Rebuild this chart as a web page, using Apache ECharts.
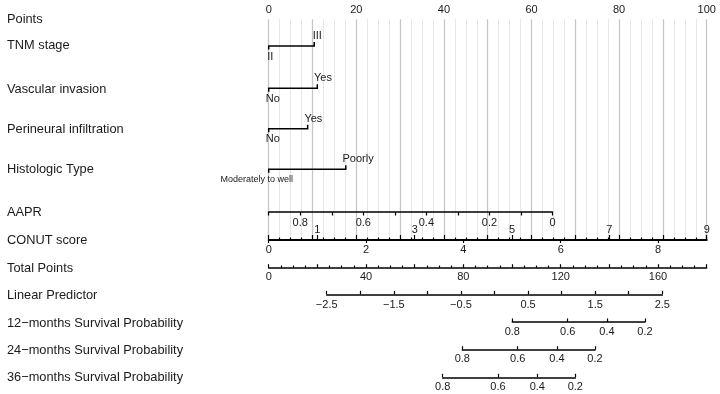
<!DOCTYPE html>
<html><head><meta charset="utf-8">
<script src="https://cdn.jsdelivr.net/npm/echarts@6/dist/echarts.min.js"></script>
<style>html,body{margin:0;padding:0;background:#fff}#c{width:720px;height:394px}</style>
</head><body><div id="c"></div>
<script>
// ---------------- data ----------------
const rowTitles = ['Points','TNM stage','Vascular invasion','Perineural infiltration','Histologic Type','AAPR','CONUT score','Total Points','Linear Predictor','12\u2212months Survival Probability','24\u2212months Survival Probability','36\u2212months Survival Probability'];
const pointsRange = [0, 100];
const pointsLabels = [0, 20, 40, 60, 80, 100];
const catLevels = [['II','III'],['No','Yes'],['No','Yes'],['Moderately to well','Poorly']];
const catPoints = [[0, 10.4],[0, 11.1],[0, 8.9],[0, 17.6]];
const aaprRange = [0, 0.9];
const aaprPointsAt = [64.8, 0];          // points at AAPR = 0 and AAPR = 0.9
const aaprTicks = [0, 0.1, 0.2, 0.3, 0.4, 0.5, 0.6, 0.7, 0.8, 0.9];
const aaprLabels = [0, 0.2, 0.4, 0.6, 0.8];
const conutRange = [0, 9];
const conutEven = [0, 2, 4, 6, 8];
const conutOdd = [1, 3, 5, 7, 9];
const totalRange = [0, 180];
const totalLabels = [0, 40, 80, 120, 160];
const lpRange = [-2.5, 2.5];
const lpTotalPoints = [23.84, 161.75];  // total points at LP = -2.5 and 2.5
const lpLabels = [-2.5, -1.5, -0.5, 0.5, 1.5, 2.5];
const survProbs = [0.8, 0.6, 0.4, 0.2];
const surv12LP = [0.265, 1.091, 1.676, 2.242];
const surv24LP = [-0.480, 0.346, 0.931, 1.497];
const surv36LP = [-0.772, 0.052, 0.638, 1.204];

// ---------------- layout ----------------
const W = 720, PX0 = 268.7, PX1 = 706.7;
const FONT = '"Liberation Sans", Arial, Helvetica, sans-serif';
const TXT = '#1a1a1a';
const titleY = [19.3, 45, 89, 129, 169, 212, 240, 268, 295, 323, 350, 377.7];
const Y = {points: 19.3, aapr: 212, conut: 239.5, total: 267.7, lp: 294.3, s12: 322, s24: 349.7, s36: 377.3};
const catRowY = [46, 88.3, 128.7, 169.3];
const lowStyle = [{align:'left', dx:-1.5, fs:11},{align:'left', dx:-3, fs:11},{align:'left', dx:-3, fs:11},{align:'center', dx:-12, fs:9}];
const highDx = [-1.5, -3.3, -3.3, -3.3];

const ptsPx = p => PX0 + (p - pointsRange[0]) / (pointsRange[1] - pointsRange[0]) * (PX1 - PX0);
const totPx = t => PX0 + (t - totalRange[0]) / (totalRange[1] - totalRange[0]) * (PX1 - PX0);
const lpPx = v => totPx(lpTotalPoints[0] + (v - lpRange[0]) / (lpRange[1] - lpRange[0]) * (lpTotalPoints[1] - lpTotalPoints[0]));

const lineStyle = {color: '#000', width: 1.5};
const tickStyle = {color: '#000', width: 1.2};
const lbl = (extra) => Object.assign({color: TXT, fontSize: 11, fontFamily: FONT, margin: 4}, extra);

const grids = [], xAxes = [], yAxes = [];
function addGrid(left, right, top, height) {
  grids.push({left: left, width: right - left, top: top, height: height, containLabel: false});
  yAxes.push({gridIndex: grids.length - 1, type: 'value', min: 0, max: 1, show: false});
  return grids.length - 1;
}

// Points axis + vertical guide lines
const g0 = addGrid(ptsPx(0), ptsPx(100), Y.points, Y.conut - Y.points);
xAxes.push({gridIndex: g0, type: 'value', position: 'top', min: pointsRange[0], max: pointsRange[1], interval: 10,
  axisLine: {lineStyle: lineStyle}, axisTick: {length: 4.5, lineStyle: tickStyle},
  minorTick: {show: true, splitNumber: 4, length: 2, lineStyle: tickStyle},
  axisLabel: lbl({customValues: pointsLabels, margin: 4}),
  splitLine: {show: true, lineStyle: {color: '#c6c6c6', width: 1.3}},
  minorSplitLine: {show: true, lineStyle: {color: '#e6e6e6', width: 1}}});

// AAPR
const gA = addGrid(ptsPx(Math.min(...aaprPointsAt)), ptsPx(Math.max(...aaprPointsAt)), Y.aapr, 0);
xAxes.push({gridIndex: gA, type: 'value', position: 'bottom', inverse: true, min: aaprRange[0], max: aaprRange[1],
  axisLine: {lineStyle: lineStyle}, axisTick: {customValues: aaprTicks, length: 3.5, lineStyle: tickStyle},
  axisLabel: lbl({customValues: aaprLabels, margin: 5, formatter: v => String(+v.toFixed(1))}), splitLine: {show: false}});

// CONUT
const gC = addGrid(ptsPx(0), ptsPx(100), Y.conut, 0);
xAxes.push({gridIndex: gC, type: 'value', position: 'bottom', min: conutRange[0], max: conutRange[1],
  axisLine: {lineStyle: lineStyle}, axisTick: {customValues: conutEven, length: 3.5, lineStyle: tickStyle},
  axisLabel: lbl({customValues: conutEven, margin: 5}), splitLine: {show: false}});
xAxes.push({gridIndex: gC, type: 'value', position: 'top', min: conutRange[0], max: conutRange[1],
  axisLine: {lineStyle: lineStyle}, axisTick: {customValues: conutOdd, length: 4.5, lineStyle: tickStyle},
  axisLabel: lbl({customValues: conutOdd, margin: 4}), splitLine: {show: false}});

// Total points
const gT = addGrid(totPx(totalRange[0]), totPx(totalRange[1]), Y.total, 0);
xAxes.push({gridIndex: gT, type: 'value', position: 'bottom', min: totalRange[0], max: totalRange[1], interval: 20,
  axisLine: {lineStyle: lineStyle}, axisTick: {inside: true, length: 3.5, lineStyle: tickStyle},
  minorTick: {show: true, splitNumber: 4, length: 2.2, lineStyle: tickStyle},
  axisLabel: lbl({customValues: totalLabels, margin: 4}), splitLine: {show: false}});

// Linear predictor
const fmtNum = v => (v < 0 ? '\u2212' : '') + String(+Math.abs(v).toFixed(1));
const gL = addGrid(lpPx(lpRange[0]), lpPx(lpRange[1]), Y.lp, 0);
xAxes.push({gridIndex: gL, type: 'value', position: 'bottom', min: lpRange[0], max: lpRange[1], interval: 0.5,
  axisLine: {lineStyle: lineStyle}, axisTick: {inside: true, length: 3.5, lineStyle: tickStyle},
  axisLabel: lbl({customValues: lpLabels, margin: 5, formatter: fmtNum}), splitLine: {show: false}});

// Survival probability axes
[[surv12LP, Y.s12], [surv24LP, Y.s24], [surv36LP, Y.s36]].forEach(([lps, y]) => {
  const g = addGrid(lpPx(lps[0]), lpPx(lps[lps.length - 1]), y, 0);
  xAxes.push({gridIndex: g, type: 'value', position: 'bottom', min: lps[0], max: lps[lps.length - 1],
    axisLine: {lineStyle: lineStyle}, axisTick: {customValues: lps, inside: true, length: 3.5, lineStyle: tickStyle},
    axisLabel: lbl({customValues: lps, margin: 4, formatter: v => {
      let best = 0; lps.forEach((l, i) => { if (Math.abs(l - v) < Math.abs(lps[best] - v)) best = i; });
      return survProbs[best].toFixed(1);
    }}), splitLine: {show: false}});
});

// Row titles
const graphics = rowTitles.map((t, i) => ({type: 'text', x: 7, y: titleY[i],
  style: {text: t, fill: TXT, fontSize: 12.8, fontFamily: FONT, verticalAlign: 'middle', align: 'left'}}));

// Categorical predictors drawn on the Points scale
const catSeries = {
  type: 'custom', xAxisIndex: 0, yAxisIndex: 0, clip: false, z: 5,
  data: catPoints.map((p, i) => [p[0], p[1], i]),
  encode: {x: [0, 1]},
  renderItem: (params, api) => {
    const i = api.value(2);
    const x0 = api.coord([api.value(0), 0])[0];
    const x1 = api.coord([api.value(1), 0])[0];
    const y = catRowY[i];
    const ls = lowStyle[i];
    return {type: 'group', children: [
      {type: 'polyline', shape: {points: [[x0, y + 3.5], [x0, y], [x1, y], [x1, y - 4]]},
        style: {stroke: '#000', lineWidth: 1.5, fill: null}},
      {type: 'text', x: x0 + ls.dx, y: y + 10.5,
        style: {text: catLevels[i][0], fill: TXT, fontSize: ls.fs, fontFamily: FONT, align: ls.align, verticalAlign: 'middle'}},
      {type: 'text', x: x1 + highDx[i], y: y - 10,
        style: {text: catLevels[i][1], fill: TXT, fontSize: 11, fontFamily: FONT, align: 'left', verticalAlign: 'middle'}}
    ]};
  }
};

const chart = echarts.init(document.getElementById('c'), null, {renderer: 'canvas'});
chart.setOption({
  animation: false,
  backgroundColor: '#fff',
  textStyle: {fontFamily: FONT},
  grid: grids, xAxis: xAxes, yAxis: yAxes,
  graphic: graphics,
  series: [catSeries]
});
</script></body></html>
